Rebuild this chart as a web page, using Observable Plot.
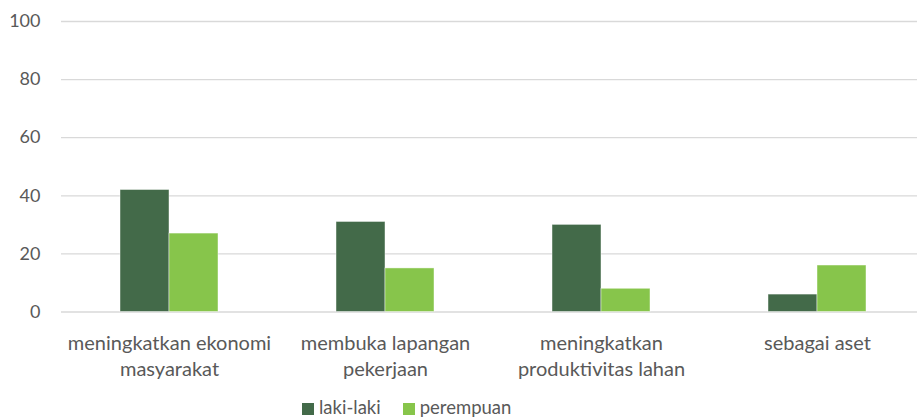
<!DOCTYPE html>
<html>
<head>
<meta charset="utf-8">
<script src="https://cdn.jsdelivr.net/npm/d3@7"></script>
<script src="https://cdn.jsdelivr.net/npm/@observablehq/plot@0.6"></script>
<style>
  html, body { margin: 0; padding: 0; background: #fff; }
  body { position: relative; width: 917px; height: 419px; overflow: hidden; font-family: Lato, "Open Sans", sans-serif; color: #595959; }
  #chart svg { display: block; }
  #legend { position: absolute; left: 302px; top: 396px; display: flex; align-items: center; height: 22px; font-size: 18.5px; line-height: 22px; }
  .item { display: flex; align-items: center; margin-right: 22px; }
  .sw { width: 12px; height: 12px; margin-right: 5px; position: relative; top: 2px; }
</style>
</head>
<body>
<div id="chart"></div>
<div id="legend"></div>
<script>
const categories = ["meningkatkan ekonomi\nmasyarakat", "membuka lapangan\npekerjaan", "meningkatkan\nproduktivitas lahan", "sebagai aset"];
const series = ["laki-laki", "perempuan"];
const lakiValues = [42, 31, 30, 6];
const perempuanValues = [27, 15, 8, 16];
const yTicks = [0, 20, 40, 60, 80, 100];
const colors = ["#436a49", "#87c54b"];

const data = [];
categories.forEach((c, i) => {
  data.push({category: c, series: series[0], value: lakiValues[i]});
  data.push({category: c, series: series[1], value: perempuanValues[i]});
});

const chart = Plot.plot({
  width: 917,
  height: 390,
  marginLeft: 60,
  marginRight: -9,
  marginTop: 21,
  marginBottom: 78.5,
  style: {fontFamily: "Lato, 'Open Sans', sans-serif", color: "#595959", background: "#fff"},
  fx: {domain: categories, padding: 0, label: null},
  x: {domain: series, paddingInner: 0, paddingOuter: 1.167, axis: null},
  y: {domain: [0, 100], label: null},
  color: {domain: series, range: colors},
  marks: [
    Plot.gridY(yTicks, {stroke: "#d9d9d9", strokeOpacity: 1, strokeWidth: 1.3}),
    Plot.barY(data, {fx: "category", x: "series", y: "value", fill: "series", stroke: "#fff", strokeOpacity: 0.6, strokeWidth: 0.75}),
    Plot.axisY(yTicks, {tickSize: 0, tickPadding: 21, fontSize: 18, label: null, fill: "#595959"}),
    Plot.axisFx({anchor: "bottom", tickSize: 0, tickPadding: 20, fontSize: 20, lineHeight: 1.3, label: null, fill: "#595959"})
  ]
});
document.getElementById("chart").appendChild(chart);

const legend = document.getElementById("legend");
series.forEach((s, i) => {
  const item = document.createElement("div");
  item.className = "item";
  const sw = document.createElement("div");
  sw.className = "sw";
  sw.style.background = colors[i];
  const t = document.createElement("span");
  t.textContent = s;
  item.appendChild(sw);
  item.appendChild(t);
  legend.appendChild(item);
});
</script>
</body>
</html>
